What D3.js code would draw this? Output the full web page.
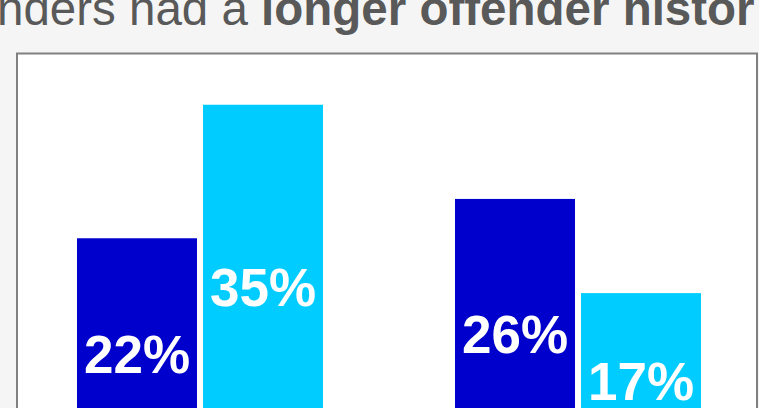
<!DOCTYPE html>
<html>
<head>
<meta charset="utf-8">
<script src="https://cdn.jsdelivr.net/npm/d3@7"></script>
<style>
  html, body { margin: 0; padding: 0; background: #f5f5f5; overflow: hidden; }
  svg { display: block; }
</style>
</head>
<body>
<svg id="chart" width="759" height="408"></svg>
<script>
// ---- data ----
const categories = ["Group A", "Group B"];
const seriesNames = ["Series 1", "Series 2"];
const series1Values = [22.1, 25.9];
const series2Values = [35.0, 16.8];
const seriesColors = ["#0000CC", "#00CCFF"];
const titleRegular = "nders had a ";
const titleBold = "longer offender histor";

const data = categories.map((c, i) => ({
  category: c,
  values: [
    { key: seriesNames[0], value: series1Values[i] },
    { key: seriesNames[1], value: series2Values[i] }
  ]
}));

const svg = d3.select("#chart");
const W = 759, H = 408;

svg.append("rect").attr("width", W).attr("height", H).attr("fill", "#f5f5f5");

// title (cut off at both sides, as in the reference)
const title = svg.append("text")
  .attr("x", -3).attr("y", 25)
  .attr("font-family", "Liberation Sans, Arial, sans-serif")
  .attr("font-size", 47.5)
  .attr("fill", "#595959");
title.append("tspan").text(titleRegular);
title.append("tspan").attr("font-weight", "bold").text(titleBold);

// panel
svg.append("rect")
  .attr("x", 17).attr("y", 53.5)
  .attr("width", 740).attr("height", 420)
  .attr("fill", "#ffffff")
  .attr("stroke", "#808080")
  .attr("stroke-width", 2);

// scales
const x0 = d3.scaleBand().domain(categories).range([11, 767]).padding(0);
const x1 = d3.scaleBand().domain(seriesNames).range([66, 312])
  .paddingInner(6 / 126).paddingOuter(0);
const y = d3.scaleLinear().domain([0, 40]).range([467, 53]);
const color = d3.scaleOrdinal().domain(seriesNames).range(seriesColors);

const g = svg.selectAll("g.group").data(data).join("g")
  .attr("class", "group")
  .attr("transform", d => `translate(${x0(d.category)},0)`);

g.selectAll("rect.bar").data(d => d.values).join("rect")
  .attr("class", "bar")
  .attr("x", d => x1(d.key))
  .attr("y", d => y(d.value))
  .attr("width", x1.bandwidth())
  .attr("height", d => y(0) - y(d.value))
  .attr("fill", d => color(d.key));

g.selectAll("text.lbl").data(d => d.values).join("text")
  .attr("class", "lbl")
  .attr("x", d => x1(d.key) + x1.bandwidth() / 2)
  .attr("y", d => (y(d.value) + y(0)) / 2 + 20)
  .attr("text-anchor", "middle")
  .attr("font-family", "Liberation Sans, Arial, sans-serif")
  .attr("font-weight", "bold")
  .attr("font-size", 53)
  .attr("fill", "#ffffff")
  .text(d => Math.round(d.value) + "%");
</script>
</body>
</html>
